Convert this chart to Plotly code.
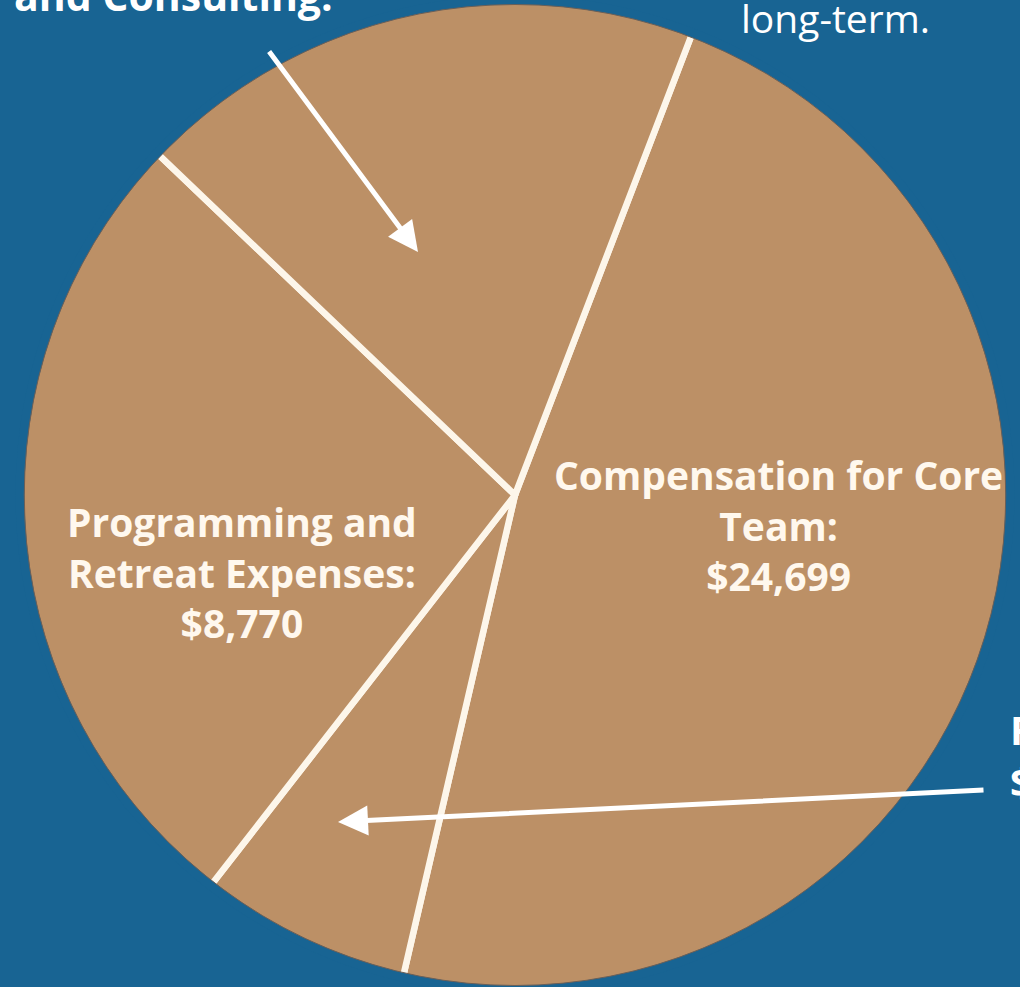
import plotly.graph_objects as go

# ---- data (angular shares, percent of the circle) ----
categories = ["Compensation for Core Team", "F", "Programming and Retreat Expenses", "Contracting and Consulting"]
shares = [47.8, 6.9, 26.6, 18.7]
amount_labels = ["$24,699", "$", "$8,770", ""]

W, H = 1020, 990
BG = "#186493"
TAN = "#BC9066"
CREAM = "#FDF6EA"
TXT = "#FFF8EE"
FONT = "Open Sans"


def px(x):
    return x / W


def py(y):
    return 1 - y / H


fig = go.Figure()

dom_x = [0.0098, 1.0]

# main pie with cream separators
fig.add_trace(go.Pie(
    labels=categories, values=shares, sort=False, direction="clockwise",
    rotation=21, textinfo="none", hoverinfo="label+value",
    marker=dict(colors=[TAN] * len(shares), line=dict(color=CREAM, width=6.5)),
    domain=dict(x=dom_x, y=[0, 1]), showlegend=False,
))
# cover the cream ring on the circumference with background colour
fig.add_trace(go.Pie(
    labels=["ring"], values=[1], sort=False, textinfo="none", hoverinfo="skip",
    marker=dict(colors=["rgba(0,0,0,0)"], line=dict(color=BG, width=9)),
    domain=dict(x=dom_x, y=[0, 1]), showlegend=False,
))
# thin dark outline at the edge
inset = 4.5 / H
fig.add_trace(go.Pie(
    labels=["edge"], values=[1], sort=False, textinfo="none", hoverinfo="skip",
    marker=dict(colors=["rgba(0,0,0,0)"], line=dict(color="#6a5f58", width=1)),
    domain=dict(x=dom_x, y=[inset, 1 - inset]), showlegend=False,
))

annotations = []
# inside labels
annotations.append(dict(
    x=px(778), y=py(525), xref="paper", yref="paper", xanchor="center", yanchor="middle",
    text="Compensation for Core<br>Team:<br>" + amount_labels[0], showarrow=False,
    font=dict(family=FONT, size=39, color=TXT, weight="bold"), align="center",
))
annotations.append(dict(
    x=px(242), y=py(572), xref="paper", yref="paper", xanchor="center", yanchor="middle",
    text="Programming and<br>Retreat Expenses:<br>" + amount_labels[2], showarrow=False,
    font=dict(family=FONT, size=39, color=TXT, weight="bold"), align="center",
))
# outside (cropped) labels
annotations.append(dict(
    x=px(173), y=py(-5), xref="paper", yref="paper", xanchor="center", yanchor="middle",
    text="and Consulting:", showarrow=False,
    font=dict(family=FONT, size=41, color="#FFFFFF", weight="bold"),
))
annotations.append(dict(
    x=px(835), y=py(17), xref="paper", yref="paper", xanchor="center", yanchor="middle",
    text="long-term.", showarrow=False,
    font=dict(family=FONT, size=39, color="#FFFFFF"),
))
annotations.append(dict(
    x=px(1008), y=py(755), xref="paper", yref="paper", xanchor="left", yanchor="middle",
    text=categories[1] + "<br>" + amount_labels[1], showarrow=False, align="left",
    font=dict(family=FONT, size=40, color="#FFFFFF", weight="bold"),
))
# arrows
annotations.append(dict(
    x=px(418), y=py(252), xref="paper", yref="paper", text="",
    showarrow=True, ax=268 - 418, ay=50 - 252, axref="pixel", ayref="pixel",
    arrowhead=2, arrowsize=1.2, arrowwidth=5, arrowcolor="#FFFFFF",
))
annotations.append(dict(
    x=px(338), y=py(822), xref="paper", yref="paper", text="",
    showarrow=True, ax=985 - 338, ay=790 - 822, axref="pixel", ayref="pixel",
    arrowhead=2, arrowsize=1.2, arrowwidth=5, arrowcolor="#FFFFFF",
))

fig.update_layout(
    width=W, height=H, margin=dict(l=0, r=0, t=0, b=0),
    paper_bgcolor=BG, plot_bgcolor=BG, annotations=annotations,
    showlegend=False,
)

page_fix = (
    "document.body.style.margin='0';"
    "document.body.style.overflow='hidden';"
    "document.documentElement.style.overflow='hidden';"
    "document.body.style.background='%s';" % BG
)
fig.write_html("out.html", post_script=page_fix, config={"displayModeBar": False})
